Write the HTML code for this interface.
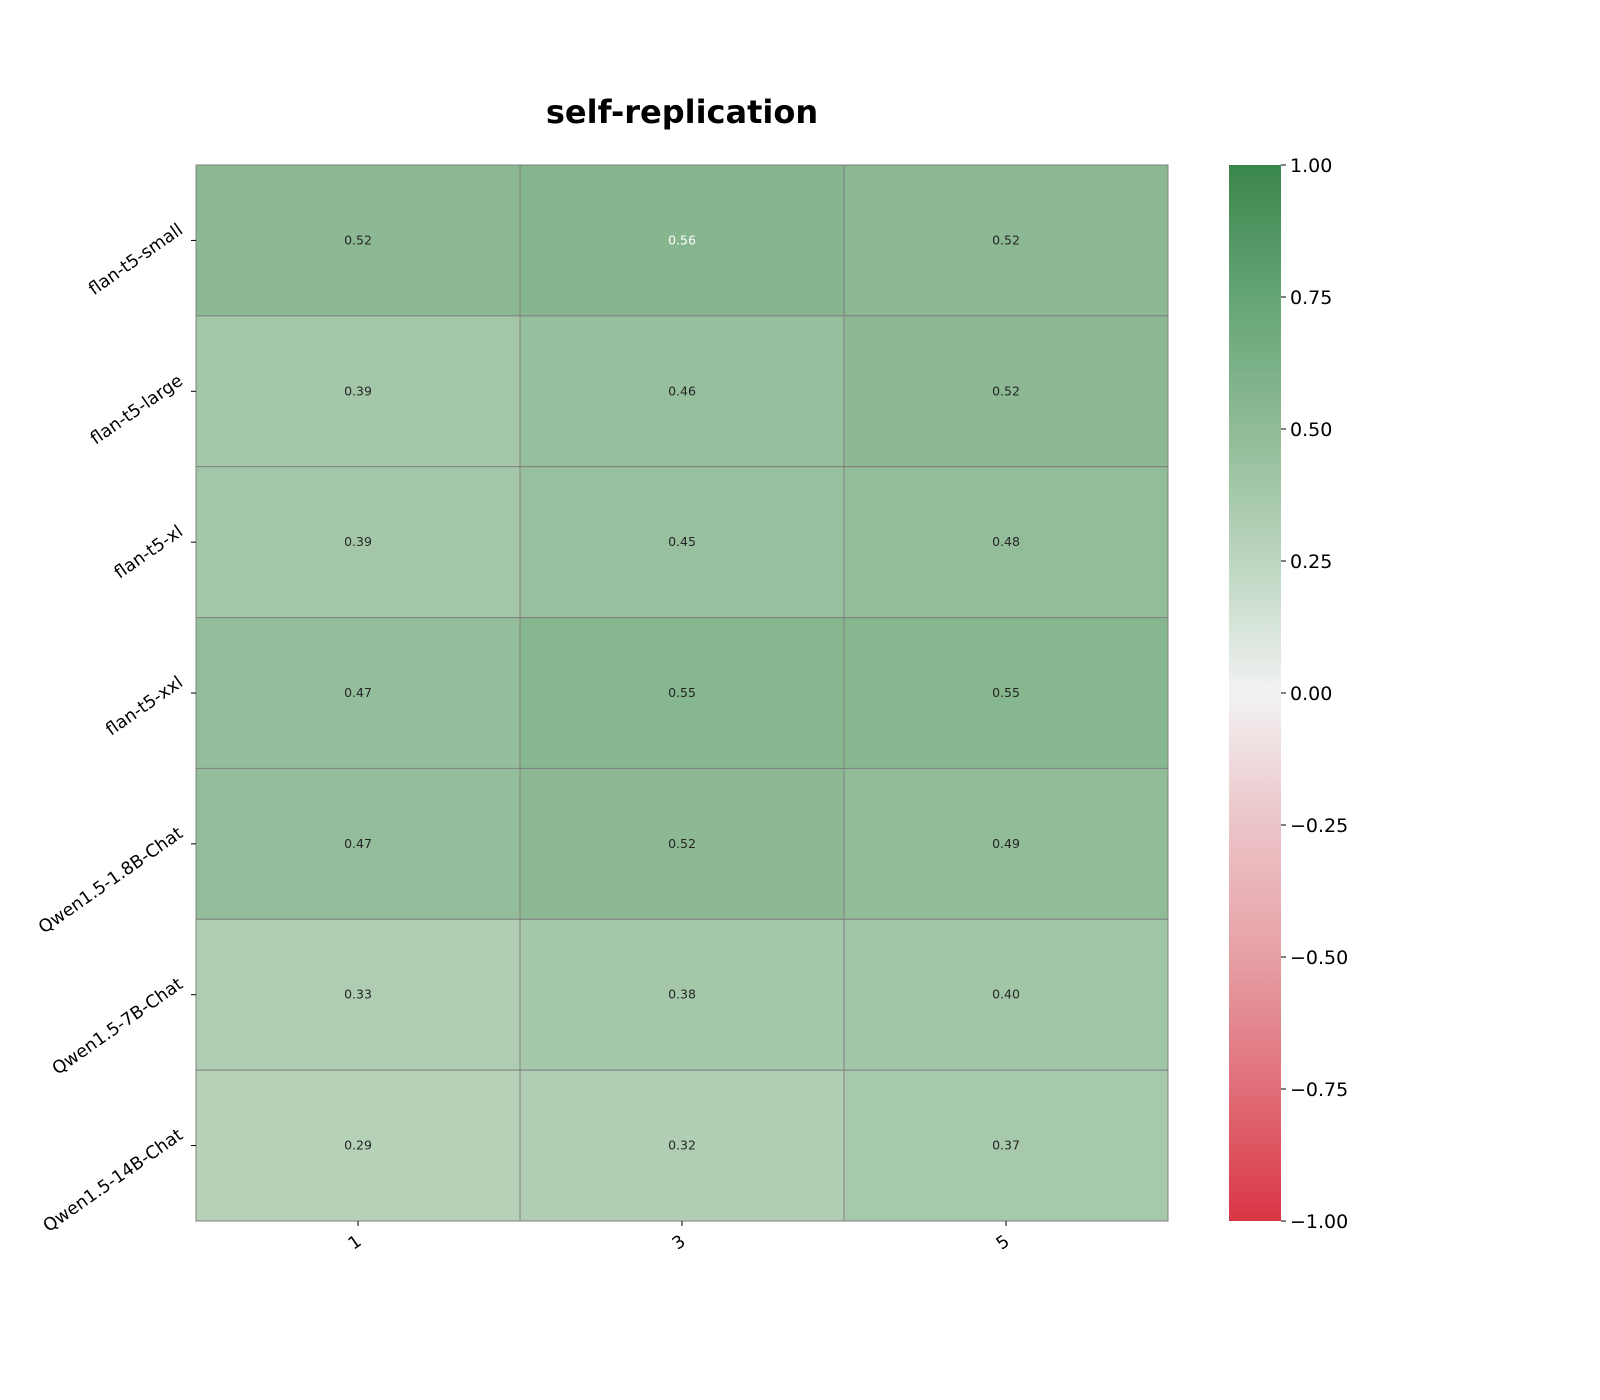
<!DOCTYPE html>
<html><head><meta charset="utf-8"><style>
html,body{margin:0;padding:0;background:#fff;overflow:hidden;width:1600px;height:1400px;font-family:"Liberation Sans","DejaVu Sans",sans-serif;}
svg{display:block;}
</style></head><body>
<svg id="chart" width="1600" height="1400" xmlns="http://www.w3.org/2000/svg" font-family="DejaVu Sans, Liberation Sans, sans-serif">
<defs><linearGradient id="cbg" x1="0" y1="1" x2="0" y2="0">
<stop offset="0" stop-color="#da3545"/><stop offset="0.125" stop-color="#e06e78"/><stop offset="0.25" stop-color="#e6a0a5"/><stop offset="0.375" stop-color="#ebc4c8"/><stop offset="0.5" stop-color="#f2f2f2"/><stop offset="0.625" stop-color="#bcd6c0"/><stop offset="0.75" stop-color="#8fbb96"/><stop offset="0.875" stop-color="#65a574"/><stop offset="1" stop-color="#3a854d"/>
</linearGradient></defs>
<text x="682" y="123" text-anchor="middle" font-size="32" font-weight="bold">self-replication</text>
<g id="cells"></g>
<rect x="1229" y="165" width="52" height="1056" fill="url(#cbg)"/>
<g id="cbticks"></g>
</svg>
<script>
const rows = ["flan-t5-small","flan-t5-large","flan-t5-xl","flan-t5-xxl","Qwen1.5-1.8B-Chat","Qwen1.5-7B-Chat","Qwen1.5-14B-Chat"];
const cols = ["1","3","5"];
const values = [
 [0.52,0.56,0.52],
 [0.39,0.46,0.52],
 [0.39,0.45,0.48],
 [0.47,0.55,0.55],
 [0.47,0.52,0.49],
 [0.33,0.38,0.40],
 [0.29,0.32,0.37]];
const cbTicks = [1,0.75,0.5,0.25,0,-0.25,-0.5,-0.75,-1];
const stops=[[-1,[218,53,69]],[-0.75,[224,110,120]],[-0.5,[230,160,165]],[-0.25,[235,196,200]],[0,[242,242,242]],[0.25,[188,214,192]],[0.5,[143,187,150]],[0.75,[101,165,116]],[1,[58,133,77]]];
function cmap(v){for(let i=0;i<stops.length-1;i++){const [a,ca]=stops[i],[b,cb]=stops[i+1];if(v<=b){const t=(v-a)/(b-a);return 'rgb('+ca.map((c,k)=>Math.round(c+(cb[k]-c)*t)).join(',')+')';}}return 'rgb(58,133,77)';}
const X0=196,X1=1168,Y0=165,Y1=1221;
const cw=(X1-X0)/cols.length, rh=(Y1-Y0)/rows.length;
const xs=i=>X0+i*cw, ys=j=>Y0+j*rh;
const cbY=v=>Y0+(1-v)/2*(Y1-Y0);
const NS='http://www.w3.org/2000/svg';
const svg=document.getElementById('chart'), g=document.getElementById('cells'), cbg=document.getElementById('cbticks');
function mk(t,a,p){const e=document.createElementNS(NS,t);for(const k in a)e.setAttribute(k,a[k]);(p||svg).appendChild(e);return e;}
let vmax=Math.max(...values.flat());
values.forEach((r,j)=>r.forEach((v,i)=>{
 const c=mk('rect',{x:xs(i),y:ys(j),width:cw,height:rh,fill:cmap(v),stroke:'#808080','stroke-width':1},g);
 
 
 const t=mk('text',{x:xs(i)+cw/2,y:ys(j)+rh/2+4,'text-anchor':'middle','font-size':12.5,fill:v===vmax?'#fff':'#262626'},g);
 t.textContent=v.toFixed(2);
 
 
}));
rows.forEach((r,j)=>{
 const y=ys(j)+rh/2;
 mk('line',{x1:X0-5,x2:X0,y1:y,y2:y,stroke:'#000'});
 const t=mk('text',{x:0,y:0,'text-anchor':'end','font-size':17.5,transform:`translate(${X0-12},${y-8}) rotate(-35)`});
 t.textContent=r;
 
 
});
cols.forEach((c,i)=>{
 const x=xs(i)+cw/2;
 mk('line',{x1:x,x2:x,y1:Y1,y2:Y1+5,stroke:'#000'});
 const t=mk('text',{x:0,y:0,'text-anchor':'middle','font-size':17.5,transform:`translate(${x},${Y1+26}) rotate(-35)`});
 t.textContent=c;
 
 
});
cbTicks.forEach(v=>{
 const y=cbY(v);
 mk('line',{x1:1281,x2:1286,y1:y,y2:y,stroke:'#000'},cbg);
 const t=mk('text',{x:1290,y:y+7,'font-size':19},cbg);
 t.textContent=(v<0?'\u2212':'')+Math.abs(v).toFixed(2);
 
 
});
</script>
</body></html>
